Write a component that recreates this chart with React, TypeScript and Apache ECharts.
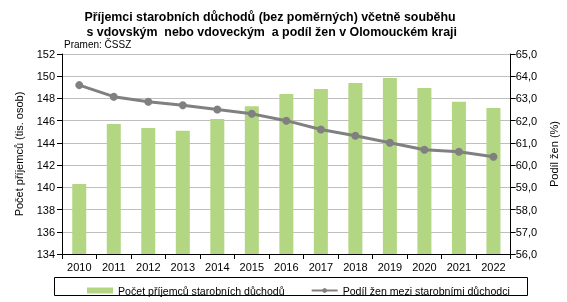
import React, { useEffect, useRef } from "react";
import * as echarts from "echarts";

const years = ["2010", "2011", "2012", "2013", "2014", "2015", "2016", "2017", "2018", "2019", "2020", "2021", "2022"];
const recipients = [140.3, 145.7, 145.35, 145.1, 146.15, 147.3, 148.4, 148.85, 149.4, 149.85, 148.95, 147.7, 147.15];
const womenShare = [63.6, 63.08, 62.85, 62.69, 62.5, 62.31, 62.0, 61.6, 61.32, 61.01, 60.69, 60.6, 60.38];

const barName = "Počet příjemců starobních důchodů";
const lineName = "Podíl žen mezi starobními důchodci";
const FONT = "Liberation Sans, Arial, sans-serif";

export default function App() {
  const ref = useRef<HTMLDivElement>(null);
  useEffect(() => {
    if (!ref.current) return;
    const chart = echarts.init(ref.current, undefined, { renderer: "svg" });
    chart.setOption({
      animation: false,
      textStyle: { fontFamily: FONT },
      title: {
        text: "Příjemci starobních důchodů (bez poměrných) včetně souběhu\n s vdovským  nebo vdoveckým  a podíl žen v Olomouckém kraji",
        left: 265,
        top: 4,
        textAlign: "center",
        textStyle: { fontFamily: FONT, fontSize: 12.4, fontWeight: "bold", color: "#000", lineHeight: 15 },
      },
      graphic: [
        {
          type: "text",
          left: 64,
          top: 39,
          style: { text: "Pramen: ČSSZ", fontFamily: FONT, fontSize: 10, fill: "#000" },
        },
        {
          type: "rect",
          shape: { x: 54.5, y: 277.5, width: 473, height: 18 },
          style: { fill: "none", stroke: "#000", lineWidth: 1 },
        },
      ],
      legend: {
        left: 82,
        top: 280,
        itemGap: 26,
        itemWidth: 26,
        itemHeight: 6,
        textStyle: { fontFamily: FONT, fontSize: 10.6, color: "#000" },
        data: [
          { name: barName, icon: "rect" },
          { name: lineName },
        ],
      },
      grid: { left: 62, right: 51, top: 54, bottom: 48 },
      xAxis: {
        type: "category",
        data: years,
        boundaryGap: true,
        axisLine: { lineStyle: { color: "#000" } },
        axisTick: { show: true, length: 5, lineStyle: { color: "#000" } },
        axisLabel: { color: "#000", fontSize: 11, margin: 7 },
      },
      yAxis: [
        {
          type: "value",
          min: 134,
          max: 152,
          interval: 2,
          name: "Počet příjemců (tis. osob)",
          nameLocation: "middle",
          nameRotate: 90,
          nameGap: 38,
          nameTextStyle: { fontFamily: FONT, fontSize: 11, color: "#000" },
          axisLine: { show: true, lineStyle: { color: "#000" } },
          axisTick: { show: true, length: 5, lineStyle: { color: "#000" } },
          axisLabel: { color: "#000", fontSize: 11, margin: 7 },
          splitLine: { show: true, lineStyle: { color: "#BFBFBF", width: 1 } },
        },
        {
          type: "value",
          min: 56,
          max: 65,
          interval: 1,
          position: "right",
          name: "Podíl žen (%)",
          nameLocation: "middle",
          nameRotate: 90,
          nameGap: 30,
          nameTextStyle: { fontFamily: FONT, fontSize: 11, color: "#000" },
          axisLine: { show: true, lineStyle: { color: "#000" } },
          axisTick: { show: true, length: 5, lineStyle: { color: "#000" } },
          axisLabel: {
            color: "#000",
            fontSize: 11,
            margin: 5,
            formatter: (v: number) => v.toFixed(1).replace(".", ","),
          },
          splitLine: { show: false },
        },
      ],
      series: [
        {
          name: barName,
          type: "bar",
          data: recipients,
          barWidth: 14,
          itemStyle: { color: "#B2D682" },
          yAxisIndex: 0,
        },
        {
          name: lineName,
          type: "line",
          data: womenShare,
          yAxisIndex: 1,
          symbol: "circle",
          symbolSize: 8,
          lineStyle: { color: "#808080", width: 3 },
          itemStyle: { color: "#808080" },
        },
      ],
    });
    return () => chart.dispose();
  }, []);
  return <div ref={ref} style={{ position: "fixed", left: 0, top: 0, width: 567, height: 302 }} />;
}
